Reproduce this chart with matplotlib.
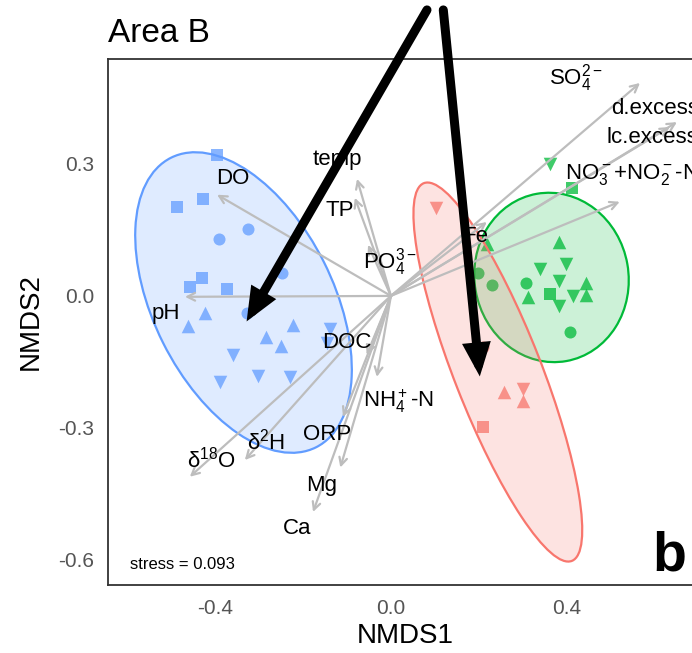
import matplotlib
matplotlib.use('Agg')
import matplotlib.pyplot as plt
from matplotlib.patches import Ellipse

plt.rcParams['font.family'] = ['Liberation Sans', 'DejaVu Sans']
plt.rcParams['mathtext.fontset'] = 'custom'
plt.rcParams['mathtext.rm'] = 'Liberation Sans'
plt.rcParams['mathtext.it'] = 'Liberation Sans:italic'
plt.rcParams['mathtext.default'] = 'regular'

# site scores (NMDS1, NMDS2) and shape per group
blue_x = [-0.396, -0.427, -0.487, -0.430, -0.457, -0.372,
          -0.390, -0.324, -0.248, -0.327,
          -0.423, -0.461, -0.222, -0.283, -0.249,
          -0.139, -0.146, -0.358, -0.389, -0.301, -0.229]
blue_y = [0.320, 0.220, 0.203, 0.040, 0.021, 0.015,
          0.129, 0.152, 0.053, -0.038,
          -0.039, -0.069, -0.066, -0.094, -0.114,
          -0.076, -0.108, -0.134, -0.195, -0.181, -0.184]
blue_shape = ['s'] * 6 + ['o'] * 4 + ['^'] * 5 + ['v'] * 6

green_x = [0.361, 0.339, 0.398, 0.381, 0.414, 0.381,
           0.218, 0.382, 0.312, 0.444, 0.444,
           0.411, 0.361,
           0.198, 0.230, 0.308, 0.407]
green_y = [0.300, 0.062, 0.073, 0.035, 0.000, -0.023,
           0.119, 0.123, -0.002, 0.030, 0.002,
           0.245, 0.004,
           0.053, 0.025, 0.029, -0.083]
green_shape = ['v'] * 6 + ['^'] * 5 + ['s'] * 2 + ['o'] * 4

red_x = [0.102, 0.301, 0.257, 0.301, 0.210, 0.210]
red_y = [0.199, -0.212, -0.219, -0.238, -0.299, -0.115]
red_shape = ['v', 'v', '^', '^', 's', 'o']

# 95% ellipses: centre, full axes, angle (deg)
ell_cx = [-0.335, 0.365, 0.243]
ell_cy = [-0.015, 0.042, -0.173]
ell_w = [0.736, 0.386, 0.922]
ell_h = [0.409, 0.350, 0.198]
ell_ang = [116.6, 100.0, 111.4]

# fitted environmental vectors
vec_names = ['DO', 'pH', 'temp', 'TP', r'PO$_4^{3-}$', 'Fe', r'SO$_4^{2-}$',
             'd.excess', 'lc.excess', r'NO$_3^-$+NO$_2^-$-N',
             'DOC', r'NH$_4^+$-N', 'ORP', 'Mg', 'Ca', 'δ$^{18}$O', 'δ$^2$H']
vec_x = [-0.395, -0.468, -0.077, -0.082, -0.052, 0.218, 0.566,
         0.650, 0.634, 0.520,
         -0.055, -0.032, -0.109, -0.115, -0.177, -0.457, -0.332]
vec_y = [0.230, -0.002, 0.266, 0.223, 0.116, 0.168, 0.484,
         0.395, 0.384, 0.214,
         -0.134, -0.184, -0.275, -0.390, -0.491, -0.411, -0.373]
lab_x = [-0.360, -0.511, -0.122, -0.117, -0.002, 0.191, 0.420,
         0.600, 0.595, 0.548,
         -0.100, 0.016, -0.145, -0.157, -0.213, -0.407, -0.283]
lab_y = [0.266, -0.041, 0.309, 0.193, 0.077, 0.134, 0.495,
         0.427, 0.359, 0.275,
         -0.107, -0.239, -0.315, -0.430, -0.528, -0.373, -0.332]

# overlaid black pointer arrows (start -> tip)
ptr_x0 = [0.082, 0.119]
ptr_y0 = [0.650, 0.650]
ptr_x1 = [-0.328, 0.202]
ptr_y1 = [-0.058, -0.183]

colors = {'blue': '#619CFF', 'green': '#00BA38', 'red': '#F8766D'}

fig = plt.figure(figsize=(6.92, 6.53), dpi=100)
xmin, xmax = -0.643, 0.71
ymin, ymax = -0.657, 0.539
ax = fig.add_axes([108 / 692, 68 / 653, (xmax - xmin) * 440 / 692, (ymax - ymin) * 440 / 653])

groups = [(blue_x, blue_y, blue_shape, 'blue'),
          (green_x, green_y, green_shape, 'green'),
          (red_x, red_y, red_shape, 'red')]
for gx, gy, gs, c in groups:
    for m in ['s', 'o', '^', 'v']:
        px = [x for x, s in zip(gx, gs) if s == m]
        py = [y for y, s in zip(gy, gs) if s == m]
        ax.scatter(px, py, marker=m, s=75 if m in 'so' else 95,
                   color=colors[c], alpha=0.75, linewidths=0, zorder=2)

for i, c in enumerate(['blue', 'green', 'red']):
    e = Ellipse((ell_cx[i], ell_cy[i]), ell_w[i], ell_h[i], angle=ell_ang[i],
                facecolor=colors[c], alpha=0.2, edgecolor='none', zorder=3)
    ax.add_patch(e)
    e2 = Ellipse((ell_cx[i], ell_cy[i]), ell_w[i], ell_h[i], angle=ell_ang[i],
                 facecolor='none', edgecolor=colors[c], lw=1.6, zorder=3)
    ax.add_patch(e2)

for i in range(len(vec_names)):
    ax.annotate('', xy=(vec_x[i], vec_y[i]), xytext=(0, 0),
                arrowprops=dict(arrowstyle='->,head_length=0.55,head_width=0.28',
                                color='#BDBDBD', lw=1.6, shrinkA=0, shrinkB=0),
                zorder=4)
    ax.text(lab_x[i], lab_y[i], vec_names[i], fontsize=16, ha='center',
            va='center', zorder=5)

ax.text(-0.593, -0.611, 'stress = 0.093', fontsize=12, va='center')
ax.text(0.594, -0.623, 'b', fontsize=40, fontweight='bold', va='baseline')

for i in range(len(ptr_x0)):
    ax.annotate('', xy=(ptr_x1[i], ptr_y1[i]), xytext=(ptr_x0[i], ptr_y0[i]),
                arrowprops=dict(arrowstyle='-|>,head_length=1.3,head_width=0.55',
                                color='black', lw=6.5, shrinkA=0, shrinkB=0,
                                joinstyle='miter'),
                annotation_clip=False, zorder=10)

ax.set_xlim(xmin, xmax)
ax.set_ylim(ymin, ymax)
ax.set_xticks([-0.4, 0.0, 0.4])
ax.set_xticklabels(['-0.4', '0.0', '0.4'])
ax.set_yticks([-0.6, -0.3, 0.0, 0.3])
ax.set_yticklabels(['-0.6', '-0.3', '0.0', '0.3'])
ax.tick_params(length=0, labelsize=15, labelcolor='#555555', pad=10)
for sp in ax.spines.values():
    sp.set_color('#333333')
    sp.set_linewidth(1.3)
ax.set_xlabel('NMDS1', fontsize=20, labelpad=4)
ax.set_ylabel('NMDS2', fontsize=20, labelpad=10)
ax.set_title('Area B', loc='left', fontsize=24, pad=12)

fig.savefig('out.png', dpi=100)
